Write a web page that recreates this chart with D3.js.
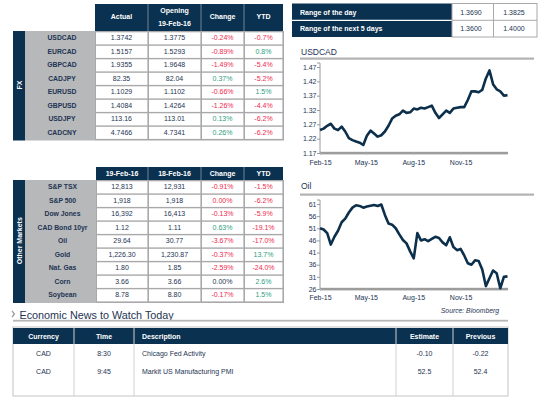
<!DOCTYPE html>
<html><head><meta charset="utf-8">
<script src="https://cdn.jsdelivr.net/npm/d3@7"></script>
<style>
html,body{margin:0;padding:0;background:#fff;}
svg{display:block;font-family:"Liberation Sans",Arial,sans-serif;}
</style></head>
<body><svg id="c" width="549" height="404"></svg>
<script>
// ---------- DATA ----------
const fxPairs   = ["USDCAD","EURCAD","GBPCAD","CADJPY","EURUSD","GBPUSD","USDJPY","CADCNY"];
const fxActual  = ["1.3742","1.5157","1.9355","82.35","1.1029","1.4084","113.16","4.7466"];
const fxOpening = ["1.3775","1.5293","1.9648","82.04","1.1102","1.4264","113.01","4.7341"];
const fxChange  = ["-0.24%","-0.89%","-1.49%","0.37%","-0.66%","-1.26%","0.13%","0.26%"];
const fxYtd     = ["-0.7%","0.8%","-5.4%","-5.2%","1.5%","-4.4%","-6.2%","-6.2%"];

const omNames   = ["S&P TSX","S&P 500","Dow Jones","CAD Bond 10yr","Oil","Gold","Nat. Gas","Corn","Soybean"];
const omToday   = ["12,813","1,918","16,392","1.12","29.64","1,226.30","1.80","3.66","8.78"];
const omPrev    = ["12,931","1,918","16,413","1.11","30.77","1,230.87","1.85","3.66","8.80"];
const omChange  = ["-0.91%","0.00%","-0.13%","0.63%","-3.67%","-0.37%","-2.59%","0.00%","-0.17%"];
const omChangeTone = ["neg","neg","neg","pos","neg","neg","neg","flat","neg"];
const omYtd     = ["-1.5%","-6.2%","-5.9%","-19.1%","-17.0%","13.7%","-24.0%","2.6%","1.5%"];

const rangeLabels = ["Range of the day","Range of the next 5 days"];
const rangeLow  = ["1.3690","1.3600"];
const rangeHigh = ["1.3825","1.4000"];

// weekly readings, 19-Feb-2015 .. 18-Feb-2016
const usdcad = [1.250,1.255,1.265,1.272,1.255,1.250,1.262,1.245,1.222,1.215,1.210,1.206,1.198,1.230,1.248,1.238,1.227,1.232,1.245,1.265,1.290,1.300,1.305,1.318,1.310,1.312,1.325,1.322,1.328,1.325,1.330,1.335,1.310,1.292,1.305,1.318,1.310,1.325,1.328,1.330,1.330,1.355,1.385,1.385,1.382,1.390,1.430,1.458,1.410,1.392,1.385,1.370,1.372];
const oil = [51.0,50.5,49.0,44.3,47.5,50.0,53.5,55.0,57.5,59.5,60.5,60.2,59.5,60.0,60.3,60.6,60.2,60.8,56.5,53.0,52.5,51.0,48.5,46.2,44.8,41.5,38.6,49.0,46.0,46.5,45.7,46.6,47.5,47.0,45.2,44.0,47.3,43.3,42.0,42.5,39.8,36.6,36.0,37.8,37.5,34.0,27.2,30.4,33.6,32.5,26.3,31.0,31.2];
const usdcadTicks = [1.17,1.22,1.27,1.32,1.37,1.42,1.47];
const oilTicks = [26,31,36,41,46,51,56,61];
const xTickDates = ["2015-02-19","2015-05-19","2015-08-19","2015-11-19"];
const xTickLabels = ["Feb-15","May-15","Aug-15","Nov-15"];

const newsCurrency = ["CAD","CAD"];
const newsTime = ["8:30","9:45"];
const newsDesc = ["Chicago Fed Activity","Markit US Manufacturing PMI"];
const newsEstimate = ["-0.10","52.5"];
const newsPrevious = ["-0.22","52.4"];

// ---------- STYLE ----------
const NAVY = "#0b3150", GRAYCOL = "#b7b8ba", GRID = "#a9a9ab", TXT = "#1d3453";
const RED = "#f0284c", GREEN = "#2e9e7c";
const svg = d3.select("#c");
svg.append("rect").attr("width",549).attr("height",404).attr("fill","#fff");

function toneColor(s){ return s.startsWith("-") ? RED : GREEN; }

function drawMarketTable(opt){
  const g = svg.append("g");
  const cols = opt.cols, n = opt.names.length;
  const y0 = opt.bodyTop, rh = opt.rowH, yb = y0 + rh*n;
  g.append("rect").attr("x",cols[0]).attr("y",opt.headTop).attr("width",cols[4]-cols[0]).attr("height",y0-opt.headTop).attr("fill",NAVY);
  for(let i=1;i<4;i++) g.append("line").attr("x1",cols[i]).attr("x2",cols[i]).attr("y1",opt.headTop).attr("y2",y0).attr("stroke","#8a9aaa").attr("stroke-width",0.8);
  opt.headers.forEach((h,i)=>{
    const cx=(cols[i]+cols[i+1])/2;
    const lines = Array.isArray(h)?h:[h];
    lines.forEach((t,j)=>{
      g.append("text").attr("x",cx).attr("y",opt.headY[lines.length-1][j]).attr("text-anchor","middle")
        .attr("font-size",7).attr("font-weight","bold").attr("fill","#fff").text(t);
    });
  });
  g.append("rect").attr("x",13).attr("y",y0).attr("width",12).attr("height",yb-y0+1.5).attr("fill",NAVY);
  g.append("rect").attr("x",25).attr("y",y0).attr("width",cols[0]-25).attr("height",yb-y0+1.5).attr("fill",GRAYCOL);
  g.append("text").attr("transform",`translate(22,${(y0+yb)/2}) rotate(-90)`).attr("text-anchor","middle")
    .attr("font-size",7).attr("font-weight","bold").attr("fill","#fff").text(opt.band);
  g.append("rect").attr("x",cols[0]).attr("y",y0).attr("width",cols[4]-cols[0]+1).attr("height",yb-y0+1.5).attr("fill",GRID);
  const colsData=[opt.a,opt.b,opt.c,opt.d];
  opt.names.forEach((nm,r)=>{
    const ty=y0+r*rh;
    g.append("text").attr("x",(25+cols[0])/2+2).attr("y",ty+rh/2+2.5).attr("text-anchor","middle")
      .attr("font-size",6.8).attr("font-weight","bold").attr("fill",TXT).text(nm);
    for(let c=0;c<4;c++){
      g.append("rect").attr("x",cols[c]+1).attr("y",ty+1.3).attr("width",cols[c+1]-cols[c]-1.6).attr("height",rh-1.4).attr("fill","#fff");
      const v=colsData[c][r];
      let col=TXT;
      if(c===2) col = opt.tone ? (opt.tone[r]==="flat"?TXT:(opt.tone[r]==="pos"?GREEN:RED)) : toneColor(v);
      if(c===3) col = toneColor(v);
      g.append("text").attr("x",(cols[c]+cols[c+1])/2).attr("y",ty+rh/2+2.6).attr("text-anchor","middle")
        .attr("font-size",7).attr("fill",col).text(v);
    }
  });
}

drawMarketTable({names:fxPairs,a:fxActual,b:fxOpening,c:fxChange,d:fxYtd,cols:[95,148,201,244,283],
  headTop:4,bodyTop:31,rowH:13.5,band:"FX",
  headers:["Actual",["Opening","19-Feb-16"],"Change","YTD"],headY:[[19],[13,26]]});
drawMarketTable({names:omNames,a:omToday,b:omPrev,c:omChange,d:omYtd,tone:omChangeTone,cols:[96,148,201,244,283],
  headTop:167,bodyTop:180,rowH:13.5,band:"Other Markets",
  headers:["19-Feb-16","18-Feb-16","Change","YTD"],headY:[[176]]});

// ---------- Range table ----------
(function(){
  const g=svg.append("g");
  g.append("rect").attr("x",292).attr("y",3.5).attr("width",160).attr("height",33.5).attr("fill",NAVY);
  g.append("line").attr("x1",292).attr("x2",452).attr("y1",20.3).attr("y2",20.3).attr("stroke","#fff").attr("stroke-width",1.2);
  g.append("rect").attr("x",452).attr("y",3.5).attr("width",85).attr("height",33.5).attr("fill","none").attr("stroke",GRID).attr("stroke-width",1);
  g.append("line").attr("x1",452).attr("x2",537).attr("y1",20.3).attr("y2",20.3).attr("stroke",GRID);
  g.append("line").attr("x1",493.5).attr("x2",493.5).attr("y1",3.5).attr("y2",37).attr("stroke",GRID);
  rangeLabels.forEach((l,i)=>{
    const cy = i===0?14.5:31;
    g.append("text").attr("x",300).attr("y",cy).attr("font-size",7).attr("font-weight","bold").attr("fill","#fff").text(l);
    g.append("text").attr("x",471).attr("y",cy).attr("text-anchor","middle").attr("font-size",7).attr("fill",TXT).text(rangeLow[i]);
    g.append("text").attr("x",514).attr("y",cy).attr("text-anchor","middle").attr("font-size",7).attr("fill",TXT).text(rangeHigh[i]);
  });
})();

// ---------- Line charts ----------
const start = new Date(2015,1,19);
const dates = usdcad.map((_,i)=>d3.timeWeek.offset(start,i));
const x = d3.scaleTime().domain([start,new Date(2016,1,19)]).range([320,508]);
const parse = d3.timeParse("%Y-%m-%d");

function lineChart(title, titleY, ruleY, series, ticks, yTop, yBot, labelY){
  const g=svg.append("g");
  const y=d3.scaleLinear().domain([ticks[0],ticks[ticks.length-1]]).range([yBot,yTop]);
  g.append("text").attr("x",301).attr("y",titleY).attr("font-size",8.5).attr("fill",TXT).text(title);
  g.append("rect").attr("x",300).attr("y",ruleY-1).attr("width",234).attr("height",2.2).attr("fill","#b3b3b3");
  const ya=g.append("g").attr("transform","translate(320,0)")
    .call(d3.axisLeft(y).tickValues(ticks).tickSize(3).tickFormat(d=>ticks[0]<10?d3.format(".2f")(d):d));
  ya.select(".domain").attr("stroke","#9a9a9a").attr("d",`M-3,${yTop-4}H0V${yBot}`);
  ya.selectAll(".tick line").attr("stroke","#9a9a9a");
  ya.selectAll("text").attr("font-size",7).attr("fill",TXT).attr("font-family","Liberation Sans, Arial, sans-serif").attr("x",-3.5);
  g.append("rect").attr("x",320).attr("y",yBot-1.2).attr("width",188).attr("height",2.6).attr("fill","#9c9c9c");
  const xa=g.append("g").attr("transform",`translate(0,${yBot})`)
    .call(d3.axisBottom(x).tickValues(xTickDates.map(parse)).tickSize(2).tickFormat((d,i)=>xTickLabels[i]));
  xa.select(".domain").remove();
  xa.selectAll(".tick line").attr("stroke","#bbb");
  xa.selectAll("text").attr("font-size",7).attr("fill",TXT).attr("font-family","Liberation Sans, Arial, sans-serif").attr("y",labelY-yBot-5);
  const line=d3.line().x((d,i)=>x(dates[i])).y(d=>y(d)).curve(d3.curveLinear);
  g.append("path").datum(series).attr("d",line).attr("fill","none").attr("stroke","#0c2f4c").attr("stroke-width",2.6).attr("stroke-linejoin","round");
}
lineChart("USDCAD",55,58.5,usdcad,usdcadTicks,67,153,165);
lineChart("Oil",189,194.5,oil,oilTicks,204,289,300);

svg.append("text").attr("x",499).attr("y",313).attr("text-anchor","end").attr("font-size",6.8).attr("font-style","italic").attr("fill",TXT).text("Source: Bloomberg");

// ---------- Economic news ----------
(function(){
  const g=svg.append("g");
  g.append("path").attr("d","M12,311 L14.5,314 L12,317").attr("fill","none").attr("stroke","#999").attr("stroke-width",1.2);
  g.append("text").attr("x",19.5).attr("y",318.5).attr("font-size",10.8).attr("fill",TXT).text("Economic News to Watch Today");
  g.append("rect").attr("x",13).attr("y",319.8).attr("width",495).attr("height",1.8).attr("fill","#b8b8b8");
  const cols=[13,74,134,396,453,508];
  g.append("rect").attr("x",13).attr("y",327).attr("width",495).attr("height",69).attr("fill","none").attr("stroke","#c4c4c4").attr("stroke-width",1);
  g.append("rect").attr("x",13).attr("y",328).attr("width",495).attr("height",16).attr("fill",NAVY);
  for(let i=1;i<5;i++){
    g.append("line").attr("x1",cols[i]).attr("x2",cols[i]).attr("y1",328).attr("y2",396).attr("stroke","#d0d0d0").attr("stroke-width",1);
  }
  const heads=["Currency","Time","Description","Estimate","Previous"];
  heads.forEach((h,i)=>{
    const left = i===2;
    g.append("text").attr("x",left?cols[2]+8:(cols[i]+cols[i+1])/2).attr("y",339).attr("text-anchor",left?"start":"middle")
      .attr("font-size",7).attr("font-weight","bold").attr("fill","#fff").text(h);
  });
  const rows=[newsCurrency,newsTime,newsDesc,newsEstimate,newsPrevious];
  newsCurrency.forEach((_,r)=>{
    const ty = 356 + r*17.8;
    rows.forEach((arr,c)=>{
      const left=c===2;
      g.append("text").attr("x",left?cols[2]+8:(cols[c]+cols[c+1])/2).attr("y",ty).attr("text-anchor",left?"start":"middle")
        .attr("font-size",7).attr("fill",TXT).text(arr[r]);
    });
  });
})();
</script></body></html>
